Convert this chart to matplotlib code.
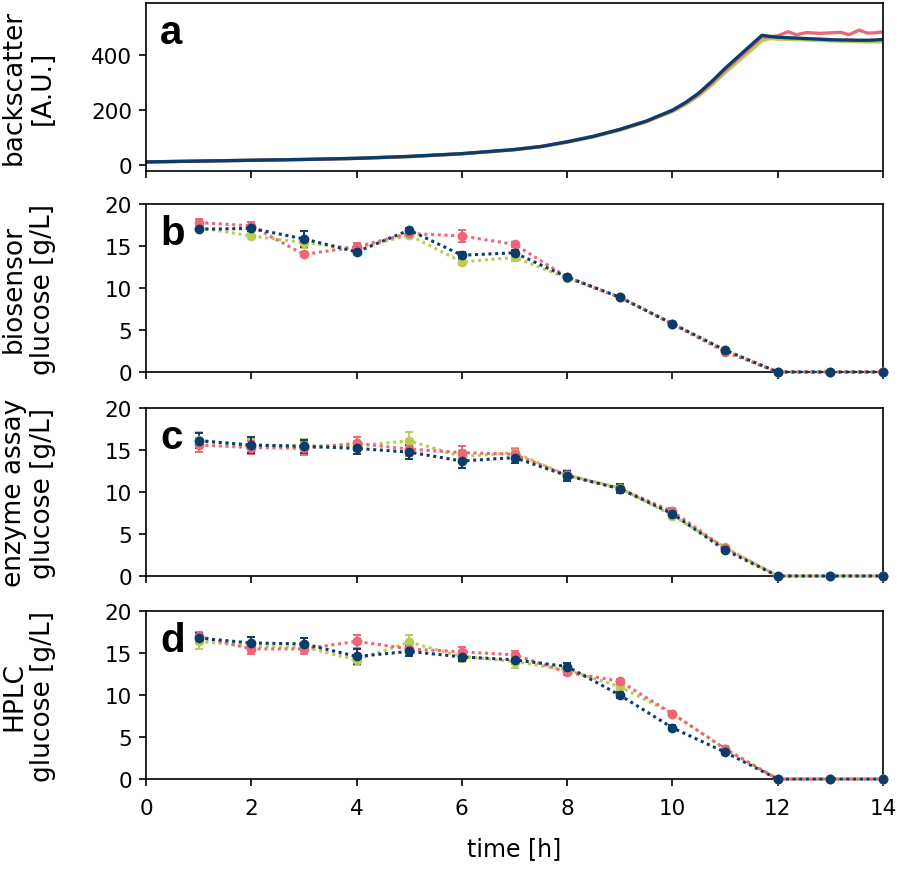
import numpy as np
import matplotlib
matplotlib.use('Agg')
import matplotlib.pyplot as plt

# colours of the three cultivations
pink = '#EE6677'
green = '#BBCC55'
blue = '#0B3D6B'

# backscatter (panel a)
t_bs = [0, 1, 2, 3, 4, 5, 6, 7, 7.5, 8, 8.5, 9, 9.5, 10, 10.25, 10.5, 10.75, 11, 11.35, 11.7,
        11.85, 12.0, 12.2, 12.35, 12.55, 12.8, 13.0, 13.2, 13.35, 13.55, 13.7, 13.85, 14.0]
bs_blue = [12, 15, 18, 21, 25, 32, 42, 57, 68, 85, 105, 130, 160, 200, 228, 262, 305, 352, 412, 472,
           468, 465, 463, 462, 460, 458, 456, 455, 455, 454, 454, 455, 457]
bs_pink = [12, 15, 18, 21, 25, 32, 42, 57, 68, 85, 105, 130, 160, 198, 225, 258, 299, 345, 405, 466,
           466, 470, 485, 474, 482, 479, 481, 483, 474, 491, 480, 481, 485]
bs_green = [12, 15, 18, 21, 25, 31, 41, 56, 67, 83, 103, 127, 157, 195, 221, 252, 292, 336, 394, 452,
            460, 458, 457, 456, 455, 453, 452, 451, 450, 449, 448, 448, 448]

# sampling times for glucose
t_s = [1, 2, 3, 4, 5, 6, 7, 8, 9, 10, 11, 12, 13, 14]

# panel b: biosensor
b_pink = [17.8, 17.4, 14.0, 14.9, 16.5, 16.2, 15.2, 11.3, 8.9, 5.7, 2.4, 0, 0, 0]
b_pink_err = [0.4, 0.5, 0.2, 0.5, 0.3, 0.7, 0.3, 0.2, 0.1, 0.1, 0.1, 0, 0, 0]
b_green = [17.2, 16.2, 15.4, 14.7, 16.3, 13.1, 13.65, 11.2, 8.9, 5.75, 2.6, 0, 0, 0]
b_green_err = [0.3, 0.3, 0.6, 0.4, 0.3, 0.3, 0.4, 0.2, 0.1, 0.1, 0.1, 0, 0, 0]
b_blue = [17.0, 17.1, 15.85, 14.3, 16.9, 13.9, 14.2, 11.3, 8.9, 5.75, 2.6, 0, 0, 0]
b_blue_err = [0.2, 0.3, 1.0, 0.3, 0.3, 0.4, 0.3, 0.2, 0.1, 0.1, 0.1, 0, 0, 0]

# panel c: enzyme assay
c_pink = [15.6, 15.3, 15.2, 15.8, 15.1, 14.7, 14.5, 12.0, 10.4, 7.7, 3.3, 0, 0, 0]
c_pink_err = [0.8, 0.8, 0.8, 0.7, 0.8, 0.8, 0.6, 0.5, 0.4, 0.4, 0.3, 0, 0, 0]
c_green = [16.2, 15.5, 15.5, 15.5, 16.1, 14.2, 14.7, 12.0, 10.5, 7.2, 3.4, 0, 0, 0]
c_green_err = [0.9, 0.8, 0.8, 0.6, 1.0, 0.8, 0.6, 0.6, 0.4, 0.3, 0.3, 0, 0, 0]
c_blue = [16.1, 15.6, 15.45, 15.2, 14.75, 13.7, 14.1, 11.95, 10.4, 7.4, 3.1, 0, 0, 0]
c_blue_err = [0.9, 0.9, 0.8, 0.7, 0.8, 0.8, 0.6, 0.6, 0.5, 0.3, 0.2, 0, 0, 0]

# panel d: HPLC
d_pink = [17.0, 15.5, 15.5, 16.4, 15.5, 15.15, 14.8, 12.7, 11.65, 7.8, 3.6, 0, 0, 0]
d_pink_err = [0.5, 0.6, 0.6, 0.8, 0.5, 0.6, 0.5, 0.3, 0.3, 0.3, 0.3, 0, 0, 0]
d_green = [16.4, 15.8, 15.7, 14.2, 16.3, 14.6, 14.0, 13.0, 11.0, 7.8, 3.6, 0, 0, 0]
d_green_err = [0.9, 0.5, 0.5, 0.6, 0.8, 0.6, 0.8, 0.3, 0.4, 0.3, 0.2, 0, 0, 0]
d_blue = [16.8, 16.2, 16.1, 14.6, 15.2, 14.55, 14.2, 13.4, 10.0, 6.1, 3.2, 0, 0, 0]
d_blue_err = [0.6, 0.7, 0.7, 0.9, 0.6, 0.5, 0.5, 0.4, 0.4, 0.3, 0.2, 0, 0, 0]

ylabels = ['backscatter\n[A.U.]', 'biosensor\nglucose [g/L]',
           'enzyme assay\nglucose [g/L]', 'HPLC\nglucose [g/L]']
letters = ['a', 'b', 'c', 'd']

fig = plt.figure(figsize=(8.98, 8.70), dpi=100)
left, width = 0.1626, 0.8207
bottoms = [0.8026, 0.5713, 0.3368, 0.1034]
height = 0.193
axes = [fig.add_axes([left, b, width, height]) for b in bottoms]

# panel a
ax = axes[0]
ax.plot(t_bs, bs_green, color=green, lw=2.4)
ax.plot(t_bs, bs_pink, color=pink, lw=2.4)
ax.plot(t_bs, bs_blue, color=blue, lw=2.4)
ax.set_ylim(-20, 590)
ax.set_yticks([0, 200, 400])

panels = [
    (axes[1], [(b_green, b_green_err, green), (b_pink, b_pink_err, pink), (b_blue, b_blue_err, blue)]),
    (axes[2], [(c_green, c_green_err, green), (c_pink, c_pink_err, pink), (c_blue, c_blue_err, blue)]),
    (axes[3], [(d_green, d_green_err, green), (d_pink, d_pink_err, pink), (d_blue, d_blue_err, blue)]),
]
for ax, series in panels:
    for vals, err, col in series:
        ax.errorbar(t_s, vals, yerr=err, color=col, marker='o', markersize=6,
                    linestyle=(0, (1, 1.2)), lw=2.2, capsize=3, elinewidth=1.4,
                    capthick=1.4, clip_on=False, zorder=3)
    ax.set_ylim(0, 20)
    ax.set_yticks([0, 5, 10, 15, 20])

for i, ax in enumerate(axes):
    ax.set_xlim(0, 14)
    ax.set_xticks(range(0, 15, 2))
    for s in ax.spines.values():
        s.set_linewidth(1.2)
        s.set_color('black')
    ax.tick_params(direction='out', length=5, width=1.2, labelsize=15.5)
    ax.tick_params(axis='x', pad=9)
    ax.tick_params(axis='y', pad=5)
    if i < 3:
        ax.tick_params(labelbottom=False)
    ax.set_ylabel(ylabels[i], fontsize=19, linespacing=1.15)
    ax.yaxis.set_label_coords(-0.122, 0.5)
    ax.text(0.019, 0.76, letters[i], transform=ax.transAxes, fontsize=29,
            fontweight='bold', family='Liberation Sans', va='baseline')

axes[3].set_xlabel('time [h]', fontsize=17, labelpad=13)

fig.savefig('out.png', dpi=100)
